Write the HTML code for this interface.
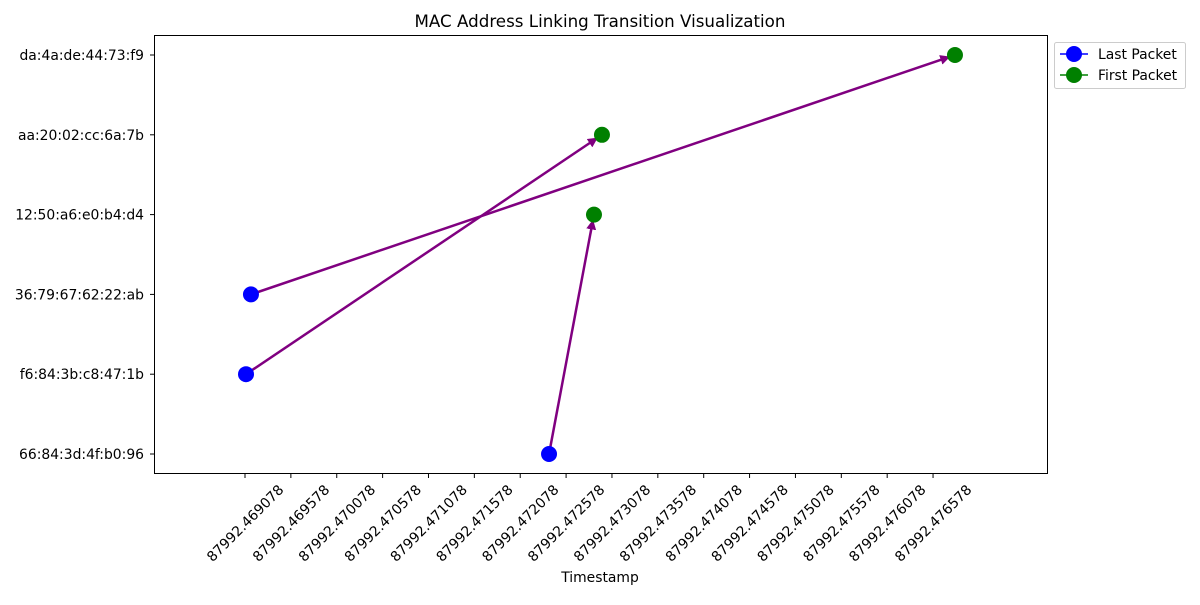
<!DOCTYPE html>
<html><head><meta charset="utf-8"><style>body{margin:0;background:#fff}svg{font-family:"DejaVu Sans","Liberation Sans",sans-serif}</style></head>
<body>
<svg id="chart" width="1200" height="600" xmlns="http://www.w3.org/2000/svg">
<defs><marker id="ah" viewBox="0 0 10 10" refX="9" refY="5" markerWidth="4" markerHeight="4" orient="auto"><path d="M0,0L10,5L0,10z" fill="purple"/></marker></defs>
<text x="600" y="27" text-anchor="middle" font-size="16.7">MAC Address Linking Transition Visualization</text>
<rect x="154.5" y="35.5" width="893" height="438" fill="none" stroke="#000" stroke-width="1"/>
<g id="yaxis"></g><g id="xaxis"></g><g id="marks"></g>
<text x="600" y="582" text-anchor="middle" font-size="13.9">Timestamp</text>
<g>
<rect x="1054.5" y="42.5" width="131" height="46" fill="#fff" stroke="#ccc" rx="2"/>
<g><line x1="1060" y1="54" x2="1088" y2="54" stroke="blue" stroke-width="1.5"/><circle cx="1074" cy="54" r="8" fill="blue"/><text x="1098" y="59" font-size="13.9">Last Packet</text></g>
<g><line x1="1060" y1="75" x2="1088" y2="75" stroke="green" stroke-width="1.5"/><circle cx="1074" cy="75" r="8" fill="green"/><text x="1098" y="80" font-size="13.9">First Packet</text></g>
</g>
</svg>
<script>
const categories=["66:84:3d:4f:b0:96","f6:84:3b:c8:47:1b","36:79:67:62:22:ab","12:50:a6:e0:b4:d4","aa:20:02:cc:6a:7b","da:4a:de:44:73:f9"];
const tickLabels=["87992.469078","87992.469578","87992.470078","87992.470578","87992.471078","87992.471578","87992.472078","87992.472578","87992.473078","87992.473578","87992.474078","87992.474578","87992.475078","87992.475578","87992.476078","87992.476578"];
const lastMac=["f6:84:3b:c8:47:1b","36:79:67:62:22:ab","66:84:3d:4f:b0:96"];
const lastTime=[87992.469089,87992.469143,87992.472392];
const firstMac=["aa:20:02:cc:6a:7b","da:4a:de:44:73:f9","12:50:a6:e0:b4:d4"];
const firstTime=[87992.472969,87992.476817,87992.472882];
const NS="http://www.w3.org/2000/svg";
const t0=87992.469078;
function X(t){return 245+(t-t0)/0.0005*45.87;}
function Y(m){return 454-categories.indexOf(m)*79.8;}
function mk(tag,at,parent){const e=document.createElementNS(NS,tag);for(const k in at)e.setAttribute(k,at[k]);document.getElementById(parent).appendChild(e);return e;}
categories.forEach(c=>{const y=Y(c);
const l=mk('line',{x1:150,x2:154.5,y1:y,y2:y,stroke:'#000'},'yaxis');


const t=mk('text',{x:144,y:y+5,'text-anchor':'end','font-size':13.9},'yaxis');t.textContent=c;

});
tickLabels.forEach(s=>{const x=X(parseFloat(s));
const l=mk('line',{x1:x,x2:x,y1:473.5,y2:478,stroke:'#000'},'xaxis');


const t=mk('text',{x:x,y:528,'text-anchor':'middle','font-size':13.9,transform:`rotate(-45 ${x} 523)`},'xaxis');t.textContent=s;

});
for(let i=0;i<lastMac.length;i++){
const x1=X(lastTime[i]),y1=Y(lastMac[i]),x2=X(firstTime[i]),y2=Y(firstMac[i]);
const dx=x2-x1,dy=y2-y1,d=Math.hypot(dx,dy);
const a=mk('line',{x1:x1,y1:y1,x2:x2-dx/d*6,y2:y2-dy/d*6,stroke:'purple','stroke-width':2.5,'marker-end':'url(#ah)'},'marks');


const p=mk('circle',{cx:x1,cy:y1,r:8,fill:'blue'},'marks');


const q=mk('circle',{cx:x2,cy:y2,r:8,fill:'green'},'marks');

}
</script>
</body></html>
